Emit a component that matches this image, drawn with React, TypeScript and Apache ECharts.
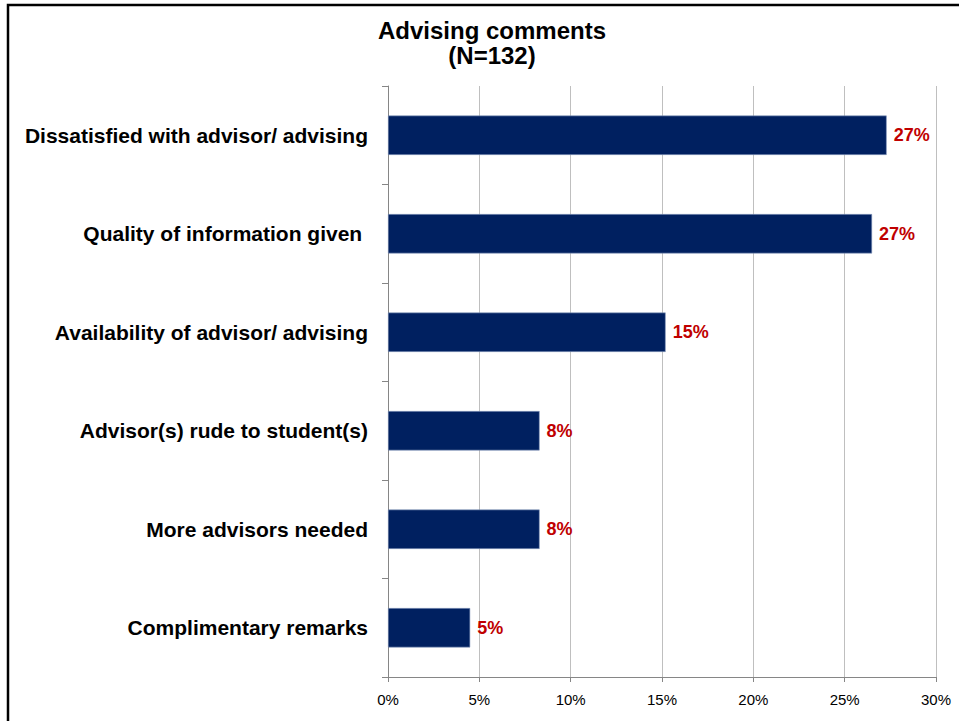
import React, { useEffect, useRef } from "react";
import * as echarts from "echarts";

const categories = [
  "Dissatisfied with advisor/ advising",
  "Quality of information given ",
  "Availability of advisor/ advising",
  "Advisor(s) rude to student(s)",
  "More advisors needed",
  "Complimentary remarks",
];
const values = [27.3, 26.5, 15.2, 8.3, 8.3, 4.5];
const xTicks = [0, 5, 10, 15, 20, 25, 30];

export default function App() {
  const ref = useRef<HTMLDivElement>(null);
  useEffect(() => {
    document.body.style.margin = "0";
    const chart = echarts.init(ref.current!, undefined, { renderer: "svg" });
    const font = "Arial, 'Liberation Sans', sans-serif";
    chart.setOption({
      animation: false,
      backgroundColor: "#ffffff",
      title: {
        text: "Advising comments\n(N=132)",
        left: 487,
        textAlign: "center",
        top: 13,
        textStyle: {
          fontFamily: font,
          fontSize: 24,
          fontWeight: "bold",
          color: "#000",
          lineHeight: 25,
        },
      },
      graphic: [
        {
          type: "rect",
          shape: { x: 8, y: 5, width: 960, height: 730 },
          style: { fill: "none", stroke: "#000", lineWidth: 2.5 },
          silent: true,
        },
      ],
      grid: { left: 388, right: 23, top: 86, bottom: 44, containLabel: false },
      xAxis: {
        type: "value",
        min: xTicks[0],
        max: xTicks[xTicks.length - 1],
        interval: 5,
        axisLine: { show: true, lineStyle: { color: "#868686", width: 1 } },
        axisTick: { show: true, length: 5, lineStyle: { color: "#868686" } },
        splitLine: { show: true, lineStyle: { color: "#bfbfbf", width: 1 } },
        axisLabel: {
          formatter: (v: number) => v + "%",
          fontFamily: font,
          fontSize: 15,
          color: "#000",
          margin: 15,
        },
      },
      yAxis: {
        type: "category",
        data: categories,
        inverse: true,
        axisLine: { show: true, lineStyle: { color: "#868686", width: 1 } },
        axisTick: { show: true, length: 6, inside: false, lineStyle: { color: "#868686" } },
        axisLabel: {
          fontFamily: font,
          fontSize: 21,
          fontWeight: "bold",
          color: "#000",
          margin: 20,
        },
      },
      series: [
        {
          type: "bar",
          data: values,
          barCategoryGap: "60%",
          itemStyle: { color: "#002060", borderColor: "#8a9cc0", borderWidth: 0.6 },
          label: {
            show: true,
            position: "right",
            distance: 7,
            formatter: (p: any) => Math.round(p.value) + "%",
            fontFamily: font,
            fontSize: 18,
            fontWeight: "bold",
            color: "#c00000",
          },
        },
      ],
    });
    return () => chart.dispose();
  }, []);
  return <div ref={ref} style={{ width: 959, height: 721 }} />;
}
